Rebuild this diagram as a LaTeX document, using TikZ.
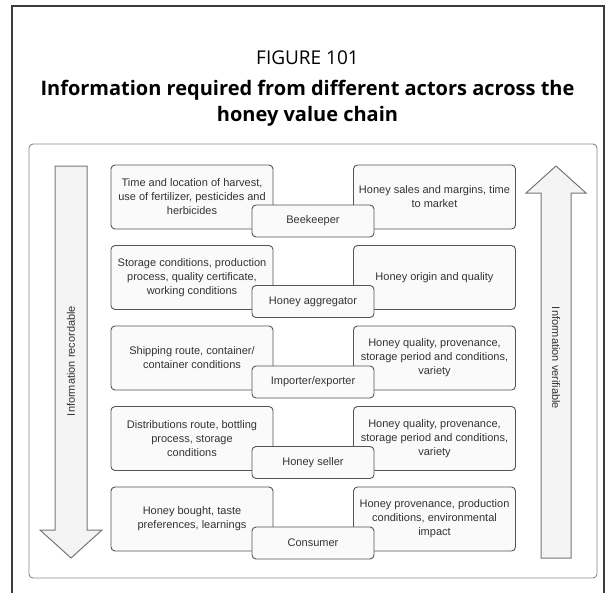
\documentclass[tikz,border=0pt]{standalone}
\usepackage{fontspec}
\setmainfont{Liberation Sans}
\newfontfamily\titlefont{Open Sans}
\definecolor{boxline}{HTML}{555555}
\definecolor{boxfill}{HTML}{FAFAFA}
\definecolor{txt}{HTML}{333333}
\definecolor{arrowline}{HTML}{777777}
\definecolor{arrowfill}{HTML}{F4F4F4}
\definecolor{panelline}{HTML}{888888}
\definecolor{frameline}{HTML}{3A3A3A}
\begin{document}
\begin{tikzpicture}[x=1pt,y=-1pt,
  infobox/.style={draw=boxline, fill=boxfill, rounded corners=4pt, line width=0.9pt,
    minimum width=162pt, minimum height=64pt, align=center, inner sep=0pt,
    font=\fontsize{11}{14}\selectfont, text=txt},
  actor/.style={draw=boxline, fill=boxfill, rounded corners=4pt, line width=0.9pt,
    minimum width=122pt, minimum height=32pt, inner sep=0pt,
    font=\fontsize{11}{14}\selectfont, text=txt},
  bigarrow/.style={draw=arrowline, fill=arrowfill, line width=1pt, line join=miter},
  sidelabel/.style={font=\fontsize{11}{14}\selectfont, text=txt},
  panel/.style={draw=panelline, rounded corners=4pt, line width=0.9pt},
  frame/.style={draw=frameline, line width=1.4pt}
]
\useasboundingbox (0,0) rectangle (615,592);

% outer frame, open at the bottom
\draw[frame] (12,600) -- (12,6) -- (604,6) -- (604,600);

% heading
\node[font=\titlefont\fontsize{19}{22}\selectfont, text=black] (fig) at (307.5,58) {FIGURE 101};
\node[font=\titlefont\bfseries\fontsize{20}{26}\selectfont, text=black, align=center]
  (title) at (307.5,103) {Information required from different actors across the\\honey value chain};

% inner panel
\draw[panel] (29,144) rectangle (597,578);

% side arrows
\draw[bigarrow] (55,166) -- (87,166) -- (87,530) -- (102,530) -- (71,558)
  -- (40,530) -- (55,530) -- cycle;
\draw[bigarrow] (541,558) -- (541,193) -- (526,193) -- (556,166) -- (586,193)
  -- (571,193) -- (571,558) -- cycle;
\node[sidelabel, rotate=90] (rec) at (71,361) {Information recordable};
\node[sidelabel, rotate=-90] (ver) at (556,358) {Information verifiable};

% row 1
\node[infobox] (l1) at (192,197) {Time and location of harvest,\\use of fertilizer, pesticides and\\herbicides};
\node[infobox] (r1) at (434.5,197) {Honey sales and margins, time\\to market};
\node[actor] (a1) at (313,221) {Beekeeper};

% row 2
\node[infobox] (l2) at (192,277.5) {Storage conditions, production\\process, quality certificate,\\working conditions};
\node[infobox] (r2) at (434.5,277.5) {Honey origin and quality};
\node[actor] (a2) at (313,301.5) {Honey aggregator};

% row 3
\node[infobox] (l3) at (192,358) {Shipping route, container/\\container conditions};
\node[infobox] (r3) at (434.5,358) {Honey quality, provenance,\\storage period and conditions,\\variety};
\node[actor] (a3) at (313,382) {Importer/exporter};

% row 4
\node[infobox] (l4) at (192,438.5) {Distributions route, bottling\\process, storage\\conditions};
\node[infobox] (r4) at (434.5,438.5) {Honey quality, provenance,\\storage period and conditions,\\variety};
\node[actor] (a4) at (313,462.5) {Honey seller};

% row 5
\node[infobox] (l5) at (192,519) {Honey bought, taste\\preferences, learnings};
\node[infobox] (r5) at (434.5,519) {Honey provenance, production\\conditions, environmental\\impact};
\node[actor] (a5) at (313,543) {Consumer};
\end{tikzpicture}
\end{document}
